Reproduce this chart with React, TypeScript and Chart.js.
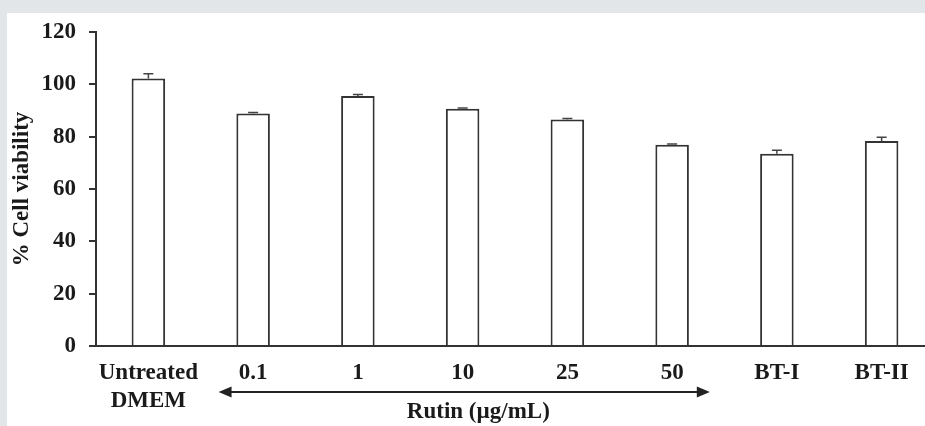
import React, { useEffect, useRef } from "react";
import { Chart, registerables } from "chart.js";

Chart.register(...registerables);

const categories: (string | string[])[] = [["Untreated", "DMEM"], "0.1", "1", "10", "25", "50", "BT-I", "BT-II"];
const viability = [102.2, 88.9, 95.5, 90.7, 86.6, 76.9, 73.5, 78.3];
const errors = [1.8, 0.3, 0.6, 0.3, 0.3, 0.3, 1.3, 1.5];
const yMin = 0;
const yMax = 120;
const yStep = 20;
const yTitle = "% Cell viability";
const groupLabel = "Rutin (µg/mL)";
const groupFrom = 1;
const groupTo = 5;

const FONT = '"Liberation Serif", "Times New Roman", serif';
const INK = "#1a1a1a";
const LINE = "#333333";

const errorBarPlugin = {
  id: "errorBars",
  afterDatasetsDraw(chart: any) {
    const meta = chart.getDatasetMeta(0);
    const y = chart.scales.y;
    const ctx = chart.ctx;
    ctx.save();
    ctx.strokeStyle = "#444";
    ctx.lineWidth = 1.5;
    meta.data.forEach((bar: any, i: number) => {
      const x = bar.x;
      const yv = y.getPixelForValue(viability[i]);
      const yt = y.getPixelForValue(viability[i] + errors[i]);
      ctx.beginPath();
      ctx.moveTo(x, yv);
      ctx.lineTo(x, yt);
      ctx.moveTo(x - 5, yt);
      ctx.lineTo(x + 5, yt);
      ctx.stroke();
    });
    ctx.restore();
  },
};

const groupArrowPlugin = {
  id: "groupArrow",
  afterDraw(chart: any) {
    const xs = chart.scales.x;
    const ctx = chart.ctx;
    const cw = xs.getPixelForValue(1) - xs.getPixelForValue(0);
    const x1 = xs.getPixelForValue(groupFrom) - 0.33 * cw;
    const x2 = xs.getPixelForValue(groupTo) + 0.36 * cw;
    const ay = 392;
    ctx.save();
    ctx.strokeStyle = "#222";
    ctx.fillStyle = "#222";
    ctx.lineWidth = 2;
    ctx.beginPath();
    ctx.moveTo(x1 + 8, ay);
    ctx.lineTo(x2 - 8, ay);
    ctx.stroke();
    ctx.beginPath();
    ctx.moveTo(x1, ay);
    ctx.lineTo(x1 + 13, ay - 5.5);
    ctx.lineTo(x1 + 13, ay + 5.5);
    ctx.closePath();
    ctx.fill();
    ctx.beginPath();
    ctx.moveTo(x2, ay);
    ctx.lineTo(x2 - 13, ay - 5.5);
    ctx.lineTo(x2 - 13, ay + 5.5);
    ctx.closePath();
    ctx.fill();
    ctx.font = `bold 23px ${FONT}`;
    ctx.fillStyle = INK;
    ctx.textAlign = "center";
    ctx.textBaseline = "middle";
    const cx = (xs.getPixelForValue(groupFrom) + xs.getPixelForValue(groupTo)) / 2 + 0.15 * cw;
    ctx.fillText(groupLabel, cx, 412);
    ctx.restore();
  },
};

export default function App() {
  const ref = useRef<HTMLCanvasElement | null>(null);
  useEffect(() => {
    if (!ref.current) return;
    const chart = new Chart(ref.current, {
      type: "bar",
      data: {
        labels: categories,
        datasets: [
          {
            data: viability,
            backgroundColor: "#ffffff",
            borderColor: LINE,
            borderWidth: 2,
            barPercentage: 1,
            categoryPercentage: 0.32,
          },
        ],
      },
      options: {
        animation: false,
        responsive: false,
        maintainAspectRatio: false,
        layout: { padding: { top: 32, right: 2, left: 0, bottom: 0 } },
        plugins: {
          legend: { display: false },
          tooltip: { enabled: false },
        },
        scales: {
          x: {
            offset: true,
            grid: { display: false, drawTicks: false },
            border: { display: true, color: LINE, width: 2 },
            ticks: {
              color: INK,
              padding: 13,
              font: { family: FONT, size: 23, weight: "bold", lineHeight: 1.22 },
              maxRotation: 0,
              autoSkip: false,
            },
            afterFit(scale: any) {
              scale.height = 80;
            },
          },
          y: {
            min: yMin,
            max: yMax,
            grid: { drawOnChartArea: false, drawTicks: true, tickLength: 7, color: LINE, lineWidth: 2 },
            border: { display: true, color: LINE, width: 2 },
            ticks: {
              stepSize: yStep,
              color: INK,
              padding: 13,
              font: { family: FONT, size: 23, weight: "bold" },
            },
            title: {
              display: true,
              text: yTitle,
              color: INK,
              padding: { top: 8, bottom: 0 },
              font: { family: FONT, size: 23, weight: "bold", lineHeight: 1.2 },
            },
            afterFit(scale: any) {
              scale.width = 96;
            },
          },
        },
      },
      plugins: [errorBarPlugin, groupArrowPlugin],
    } as any);
    return () => chart.destroy();
  }, []);

  return (
    <div style={{ position: "fixed", left: 0, top: 0, width: 925, height: 426, overflow: "hidden", background: "#e2e6e8" }}>
      <div style={{ position: "absolute", left: 7, top: 13, right: 0, bottom: 0, background: "#ffffff" }} />
      <canvas
        ref={ref}
        width={936}
        height={426}
        style={{ position: "absolute", left: 0, top: 0, width: 936, height: 426 }}
      />
    </div>
  );
}
